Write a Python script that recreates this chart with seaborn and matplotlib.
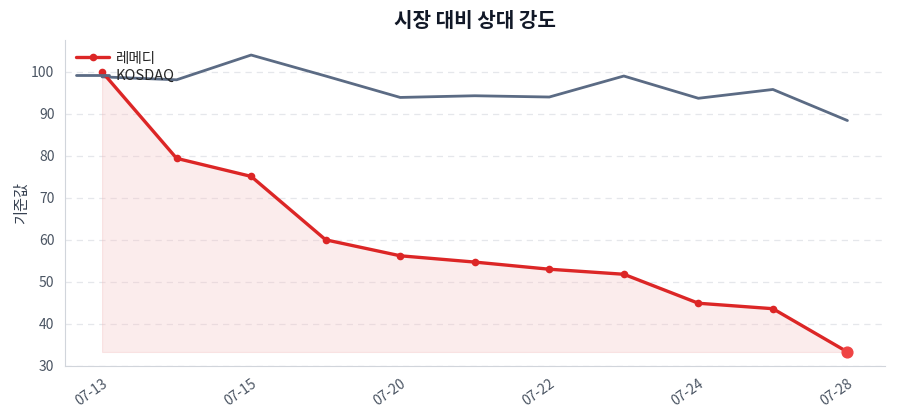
import numpy as np
import pandas as pd
import matplotlib
matplotlib.use("Agg")
import matplotlib.pyplot as plt
import seaborn as sns

dates = ["07-13", "07-14", "07-15", "07-16", "07-20", "07-21",
         "07-22", "07-23", "07-24", "07-27", "07-28"]
remedy = [100.0, 79.4, 75.1, 60.0, 56.2, 54.7, 53.0, 51.8, 44.9, 43.6, 33.3]
kosdaq = [98.8, 98.1, 104.0, 99.0, 93.9, 94.3, 94.0, 99.0, 93.7, 95.8, 88.4]
shown_ticks = ["07-13", "07-15", "07-20", "07-22", "07-24", "07-28"]

sns.set_style("white")
plt.rcParams['font.family'] = ['Noto Sans CJK KR', 'DejaVu Sans']

df = pd.DataFrame({"date": dates, "pos": np.arange(len(dates)),
                   "레메디": remedy, "KOSDAQ": kosdaq})

fig = plt.figure(figsize=(9, 4.2), dpi=100)
ax = fig.add_axes([0.072, 0.129, 0.911, 0.776])

red = "#dc2626"
slate = "#5b6b84"

ax.fill_between(df["pos"], df["레메디"], min(remedy), color="#f5c4c4", alpha=0.32,
                linewidth=0.8, edgecolor="#f3b8b8", zorder=1)
sns.lineplot(data=df, x="pos", y="레메디", ax=ax, color=red, linewidth=2.4,
             marker="o", markersize=5.5, markeredgewidth=0, label="레메디", zorder=4)
sns.lineplot(data=df, x="pos", y="KOSDAQ", ax=ax, color=slate, linewidth=2.0,
             label="KOSDAQ", zorder=3)
ax.scatter([df["pos"].iloc[-1]], [remedy[-1]], s=60, color="#ef4444", zorder=5)

ax.set_xlim(-0.5, 10.5)
ax.set_ylim(30, 107.6)
ax.set_yticks([30, 40, 50, 60, 70, 80, 90, 100])
tick_pos = [dates.index(d) for d in shown_ticks]
ax.set_xticks(tick_pos)
ax.set_xticklabels(shown_ticks, rotation=35, ha="right", rotation_mode="anchor")

ax.grid(axis="y", linestyle=(0, (5, 4)), color="#e5e7eb", linewidth=0.9)
ax.set_axisbelow(True)
for s in ["top", "right"]:
    ax.spines[s].set_visible(False)
for s in ["left", "bottom"]:
    ax.spines[s].set_color("#d1d5db")
ax.tick_params(axis="both", colors="#4b5563", labelsize=10, length=4, color="#4b5563")
for lab in ax.get_xticklabels() + ax.get_yticklabels():
    lab.set_color("#4b5563")

ax.set_xlabel("")
ax.set_ylabel("기준값", fontsize=11, color="#374151", labelpad=1)
ax.set_title("시장 대비 상대 강도", fontsize=14.5, fontweight="bold", color="#111827", pad=9)

leg = ax.legend(loc="upper left", frameon=False, fontsize=10.5, handlelength=2.2,
                handletextpad=0.5, borderaxespad=0.4, labelspacing=0.25)

fig.savefig("out.png", dpi=100)
